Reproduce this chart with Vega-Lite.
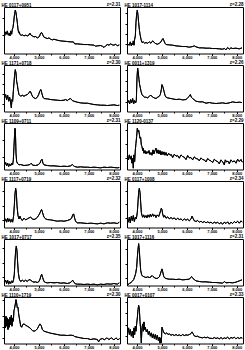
{
"$schema": "https://vega.github.io/schema/vega-lite/v6.json",
"background": "white",
"padding": {"left": 1, "top": 0, "right": 2, "bottom": 0},
"columns": 2,
"spacing": {"row": 11, "column": 7},
"bounds": "flush",
"datasets": {
"p1": [{"x":3626,"y":5.3},{"x":3666,"y":6.5},{"x":3706,"y":5.8},{"x":3733,"y":6.8},{"x":3773,"y":5.5},{"x":3813,"y":6.1},{"x":3840,"y":5.3},{"x":3867,"y":6.8},{"x":3907,"y":5.8},{"x":3934,"y":7.3},{"x":3960,"y":7.8},{"x":3987,"y":9.3},{"x":4014,"y":11.3},{"x":4040,"y":12.5},{"x":4054,"y":13.1},{"x":4081,"y":12.3},{"x":4107,"y":10.8},{"x":4134,"y":9.3},{"x":4161,"y":7.3},{"x":4187,"y":6.3},{"x":4214,"y":6.5},{"x":4241,"y":5.7},{"x":4294,"y":5.5},{"x":4348,"y":5.6},{"x":4401,"y":5.3},{"x":4468,"y":5.5},{"x":4535,"y":5.3},{"x":4602,"y":5.6},{"x":4642,"y":6.1},{"x":4682,"y":5.5},{"x":4735,"y":5.3},{"x":4802,"y":5.0},{"x":4869,"y":5.1},{"x":4936,"y":4.7},{"x":4989,"y":4.9},{"x":5029,"y":5.3},{"x":5069,"y":6.1},{"x":5109,"y":6.3},{"x":5149,"y":5.7},{"x":5203,"y":4.9},{"x":5270,"y":4.7},{"x":5336,"y":4.5},{"x":5403,"y":4.7},{"x":5470,"y":4.3},{"x":5537,"y":4.1},{"x":5604,"y":4.3},{"x":5737,"y":4.0},{"x":5871,"y":3.8},{"x":6004,"y":3.7},{"x":6138,"y":3.6},{"x":6272,"y":3.5},{"x":6378,"y":3.5},{"x":6432,"y":2.9},{"x":6539,"y":2.9},{"x":6672,"y":2.8},{"x":6806,"y":2.7},{"x":6940,"y":2.7},{"x":7073,"y":2.6},{"x":7207,"y":2.5},{"x":7273,"y":2.2},{"x":7340,"y":2.3},{"x":7474,"y":2.4},{"x":7541,"y":2.2},{"x":7608,"y":1.8},{"x":7674,"y":2.3},{"x":7741,"y":2.7},{"x":7808,"y":2.5},{"x":7875,"y":2.9},{"x":7941,"y":2.6},{"x":8008,"y":2.5},{"x":8075,"y":2.8},{"x":8142,"y":2.3},{"x":8222,"y":2.6}],
"p2": [{"x":3626,"y":2.8},{"x":3693,"y":2.5},{"x":3733,"y":3.5},{"x":3773,"y":2.3},{"x":3800,"y":3.1},{"x":3827,"y":2.7},{"x":3853,"y":3.8},{"x":3880,"y":2.5},{"x":3907,"y":4.3},{"x":3934,"y":5.3},{"x":3960,"y":9.3},{"x":3987,"y":11.8},{"x":4014,"y":13.1},{"x":4041,"y":11.5},{"x":4067,"y":9.3},{"x":4094,"y":7.3},{"x":4121,"y":5.8},{"x":4161,"y":4.3},{"x":4201,"y":3.3},{"x":4254,"y":3.5},{"x":4308,"y":3.1},{"x":4361,"y":3.3},{"x":4428,"y":3.1},{"x":4495,"y":3.5},{"x":4562,"y":3.1},{"x":4628,"y":3.8},{"x":4695,"y":3.3},{"x":4762,"y":2.9},{"x":4829,"y":2.8},{"x":4896,"y":3.1},{"x":4962,"y":3.5},{"x":5002,"y":4.1},{"x":5043,"y":4.5},{"x":5083,"y":3.8},{"x":5123,"y":3.1},{"x":5163,"y":2.7},{"x":5296,"y":2.6},{"x":5430,"y":2.5},{"x":5564,"y":2.3},{"x":5697,"y":2.2},{"x":5831,"y":2.1},{"x":5964,"y":2.1},{"x":6098,"y":1.9},{"x":6232,"y":2.1},{"x":6298,"y":2.3},{"x":6365,"y":2.0},{"x":6499,"y":1.7},{"x":6632,"y":1.7},{"x":6766,"y":1.6},{"x":6900,"y":1.6},{"x":7033,"y":1.5},{"x":7167,"y":1.5},{"x":7300,"y":1.4},{"x":7434,"y":1.3},{"x":7501,"y":1.5},{"x":7568,"y":1.1},{"x":7634,"y":1.8},{"x":7701,"y":1.3},{"x":7768,"y":1.7},{"x":7835,"y":1.5},{"x":7968,"y":1.6},{"x":8102,"y":1.4},{"x":8209,"y":1.7}],
"p3": [{"x":3626,"y":4.1},{"x":3666,"y":5.1},{"x":3706,"y":3.6},{"x":3747,"y":4.9},{"x":3787,"y":3.1},{"x":3827,"y":4.3},{"x":3867,"y":2.6},{"x":3894,"y":1.1},{"x":3920,"y":3.6},{"x":3947,"y":3.1},{"x":3974,"y":6.1},{"x":4000,"y":8.6},{"x":4027,"y":11.1},{"x":4054,"y":12.6},{"x":4081,"y":11.6},{"x":4107,"y":9.1},{"x":4134,"y":8.1},{"x":4161,"y":6.6},{"x":4201,"y":5.1},{"x":4268,"y":4.6},{"x":4334,"y":4.9},{"x":4401,"y":4.6},{"x":4468,"y":4.9},{"x":4535,"y":5.1},{"x":4602,"y":5.6},{"x":4642,"y":6.1},{"x":4668,"y":5.9},{"x":4708,"y":5.1},{"x":4762,"y":4.3},{"x":4802,"y":4.1},{"x":4869,"y":3.9},{"x":4936,"y":4.3},{"x":4989,"y":5.1},{"x":5042,"y":6.3},{"x":5082,"y":6.6},{"x":5123,"y":5.3},{"x":5163,"y":4.3},{"x":5203,"y":3.9},{"x":5336,"y":3.8},{"x":5470,"y":3.6},{"x":5604,"y":3.5},{"x":5737,"y":3.4},{"x":5871,"y":3.3},{"x":6004,"y":3.4},{"x":6071,"y":3.6},{"x":6138,"y":3.3},{"x":6205,"y":3.7},{"x":6272,"y":3.9},{"x":6338,"y":3.3},{"x":6405,"y":3.1},{"x":6539,"y":2.8},{"x":6672,"y":2.6},{"x":6806,"y":2.5},{"x":6940,"y":2.5},{"x":7073,"y":2.3},{"x":7207,"y":2.1},{"x":7340,"y":2.0},{"x":7474,"y":1.9},{"x":7608,"y":1.9},{"x":7741,"y":1.8},{"x":7875,"y":1.9},{"x":8008,"y":2.0},{"x":8142,"y":1.8},{"x":8222,"y":1.9}],
"p4": [{"x":3626,"y":2.6},{"x":3666,"y":3.3},{"x":3707,"y":2.3},{"x":3747,"y":3.6},{"x":3787,"y":2.6},{"x":3827,"y":3.9},{"x":3867,"y":2.3},{"x":3907,"y":3.3},{"x":3947,"y":2.6},{"x":3974,"y":3.3},{"x":4000,"y":10.1},{"x":4027,"y":13.1},{"x":4054,"y":11.6},{"x":4081,"y":9.6},{"x":4107,"y":8.1},{"x":4134,"y":7.1},{"x":4161,"y":6.1},{"x":4201,"y":5.1},{"x":4254,"y":4.6},{"x":4308,"y":4.3},{"x":4361,"y":4.3},{"x":4428,"y":4.1},{"x":4495,"y":4.6},{"x":4562,"y":4.9},{"x":4628,"y":4.3},{"x":4695,"y":4.1},{"x":4762,"y":3.9},{"x":4829,"y":4.3},{"x":4896,"y":4.6},{"x":4936,"y":5.1},{"x":4976,"y":6.6},{"x":5002,"y":8.1},{"x":5043,"y":7.3},{"x":5083,"y":6.1},{"x":5123,"y":4.9},{"x":5163,"y":4.3},{"x":5230,"y":4.1},{"x":5296,"y":4.0},{"x":5430,"y":3.8},{"x":5564,"y":3.6},{"x":5697,"y":3.7},{"x":5831,"y":3.5},{"x":5964,"y":3.6},{"x":6031,"y":4.1},{"x":6098,"y":4.6},{"x":6138,"y":5.1},{"x":6178,"y":4.3},{"x":6232,"y":3.9},{"x":6365,"y":3.1},{"x":6499,"y":2.9},{"x":6632,"y":2.9},{"x":6766,"y":2.5},{"x":6900,"y":2.7},{"x":7033,"y":2.5},{"x":7167,"y":2.4},{"x":7300,"y":2.5},{"x":7434,"y":2.6},{"x":7568,"y":2.4},{"x":7701,"y":2.6},{"x":7835,"y":2.9},{"x":7968,"y":2.7},{"x":8102,"y":2.8},{"x":8209,"y":2.7}],
"p5": [{"x":3626,"y":1.4},{"x":3666,"y":2.1},{"x":3706,"y":1.1},{"x":3747,"y":1.9},{"x":3787,"y":0.9},{"x":3827,"y":1.7},{"x":3867,"y":1.1},{"x":3907,"y":1.9},{"x":3947,"y":1.4},{"x":3974,"y":2.9},{"x":4000,"y":6.9},{"x":4027,"y":10.9},{"x":4040,"y":12.4},{"x":4054,"y":11.9},{"x":4067,"y":8.9},{"x":4081,"y":4.9},{"x":4107,"y":2.4},{"x":4134,"y":1.9},{"x":4201,"y":1.4},{"x":4268,"y":1.5},{"x":4401,"y":1.2},{"x":4535,"y":1.3},{"x":4642,"y":1.5},{"x":4695,"y":1.9},{"x":4749,"y":1.3},{"x":4869,"y":1.2},{"x":4963,"y":1.4},{"x":5042,"y":1.9},{"x":5082,"y":2.7},{"x":5123,"y":3.1},{"x":5163,"y":1.9},{"x":5203,"y":1.4},{"x":5336,"y":1.2},{"x":5470,"y":1.1},{"x":5604,"y":1.1},{"x":5737,"y":1.0},{"x":5871,"y":0.9},{"x":6004,"y":1.0},{"x":6138,"y":0.9},{"x":6272,"y":1.1},{"x":6338,"y":1.5},{"x":6378,"y":1.2},{"x":6432,"y":0.9},{"x":6539,"y":0.7},{"x":6672,"y":0.8},{"x":6806,"y":0.7},{"x":6940,"y":0.7},{"x":7073,"y":0.6},{"x":7207,"y":0.7},{"x":7340,"y":0.6},{"x":7474,"y":0.5},{"x":7608,"y":0.7},{"x":7741,"y":0.6},{"x":7875,"y":0.7},{"x":8008,"y":0.6},{"x":8142,"y":0.5},{"x":8222,"y":0.6}],
"p6": [{"x":3613,"y":3.9},{"x":3653,"y":2.9},{"x":3693,"y":4.4},{"x":3733,"y":3.1},{"x":3773,"y":4.1},{"x":3800,"y":1.9},{"x":3827,"y":3.4},{"x":3853,"y":0.4},{"x":3880,"y":4.4},{"x":3907,"y":2.4},{"x":3934,"y":5.9},{"x":3960,"y":7.9},{"x":3987,"y":9.9},{"x":4014,"y":12.4},{"x":4041,"y":11.4},{"x":4067,"y":11.9},{"x":4094,"y":10.7},{"x":4121,"y":9.4},{"x":4148,"y":9.7},{"x":4174,"y":7.4},{"x":4201,"y":6.9},{"x":4228,"y":5.7},{"x":4254,"y":6.4},{"x":4281,"y":4.9},{"x":4321,"y":5.7},{"x":4361,"y":4.7},{"x":4401,"y":5.4},{"x":4441,"y":4.9},{"x":4481,"y":5.7},{"x":4522,"y":4.5},{"x":4562,"y":5.1},{"x":4602,"y":4.3},{"x":4642,"y":5.9},{"x":4682,"y":4.7},{"x":4722,"y":5.7},{"x":4762,"y":6.4},{"x":4802,"y":4.9},{"x":4842,"y":5.9},{"x":4882,"y":4.7},{"x":4922,"y":5.7},{"x":4962,"y":4.4},{"x":5002,"y":5.4},{"x":5043,"y":4.5},{"x":5083,"y":5.3},{"x":5123,"y":4.3},{"x":5163,"y":5.1},{"x":5216,"y":4.1},{"x":5270,"y":4.9},{"x":5323,"y":4.3},{"x":5377,"y":4.5},{"x":5430,"y":3.6},{"x":5497,"y":4.6},{"x":5564,"y":4.0},{"x":5630,"y":4.2},{"x":5697,"y":3.4},{"x":5764,"y":4.4},{"x":5831,"y":3.9},{"x":5898,"y":3.7},{"x":5964,"y":3.0},{"x":6031,"y":4.2},{"x":6098,"y":3.5},{"x":6165,"y":3.6},{"x":6232,"y":2.9},{"x":6298,"y":3.8},{"x":6365,"y":3.3},{"x":6432,"y":3.2},{"x":6499,"y":2.6},{"x":6566,"y":3.5},{"x":6632,"y":3.0},{"x":6699,"y":2.9},{"x":6766,"y":2.3},{"x":6833,"y":3.3},{"x":6900,"y":2.8},{"x":6966,"y":2.6},{"x":7033,"y":2.1},{"x":7100,"y":3.1},{"x":7167,"y":2.6},{"x":7234,"y":2.4},{"x":7300,"y":1.7},{"x":7367,"y":2.9},{"x":7434,"y":2.3},{"x":7501,"y":1.4},{"x":7541,"y":2.9},{"x":7594,"y":2.3},{"x":7648,"y":2.5},{"x":7701,"y":1.7},{"x":7768,"y":2.9},{"x":7835,"y":2.3},{"x":7902,"y":2.6},{"x":7968,"y":1.9},{"x":8035,"y":3.1},{"x":8102,"y":2.4},{"x":8169,"y":3.0},{"x":8222,"y":2.2}],
"p7": [{"x":3626,"y":1.8},{"x":3666,"y":2.6},{"x":3706,"y":1.6},{"x":3747,"y":2.8},{"x":3787,"y":1.8},{"x":3827,"y":2.6},{"x":3867,"y":1.6},{"x":3907,"y":2.4},{"x":3947,"y":1.6},{"x":3987,"y":3.6},{"x":4014,"y":6.6},{"x":4040,"y":10.1},{"x":4067,"y":11.8},{"x":4094,"y":10.6},{"x":4121,"y":6.6},{"x":4161,"y":3.6},{"x":4201,"y":2.6},{"x":4241,"y":3.4},{"x":4281,"y":2.6},{"x":4334,"y":2.1},{"x":4401,"y":2.8},{"x":4468,"y":2.3},{"x":4535,"y":2.6},{"x":4602,"y":2.9},{"x":4668,"y":3.1},{"x":4735,"y":2.6},{"x":4802,"y":2.4},{"x":4869,"y":2.6},{"x":4936,"y":3.1},{"x":5002,"y":3.8},{"x":5042,"y":4.4},{"x":5082,"y":5.2},{"x":5109,"y":5.4},{"x":5149,"y":4.4},{"x":5203,"y":3.1},{"x":5270,"y":2.6},{"x":5336,"y":2.4},{"x":5470,"y":2.3},{"x":5604,"y":2.1},{"x":5737,"y":1.9},{"x":5871,"y":2.0},{"x":6004,"y":1.9},{"x":6138,"y":2.1},{"x":6245,"y":2.4},{"x":6312,"y":2.8},{"x":6352,"y":3.8},{"x":6392,"y":4.1},{"x":6432,"y":2.8},{"x":6472,"y":1.8},{"x":6539,"y":1.4},{"x":6672,"y":1.4},{"x":6806,"y":1.3},{"x":6940,"y":1.2},{"x":7073,"y":1.3},{"x":7207,"y":1.2},{"x":7340,"y":1.1},{"x":7474,"y":1.3},{"x":7608,"y":1.1},{"x":7741,"y":1.4},{"x":7875,"y":1.3},{"x":8008,"y":1.4},{"x":8142,"y":1.2},{"x":8222,"y":1.6}],
"p8": [{"x":3613,"y":2.6},{"x":3653,"y":1.6},{"x":3693,"y":3.1},{"x":3733,"y":1.4},{"x":3773,"y":3.4},{"x":3813,"y":2.1},{"x":3853,"y":3.6},{"x":3894,"y":1.8},{"x":3934,"y":3.1},{"x":3974,"y":2.6},{"x":4014,"y":4.6},{"x":4041,"y":7.6},{"x":4067,"y":10.6},{"x":4094,"y":11.8},{"x":4121,"y":10.6},{"x":4148,"y":7.6},{"x":4174,"y":4.6},{"x":4201,"y":3.6},{"x":4228,"y":3.1},{"x":4268,"y":3.8},{"x":4308,"y":3.0},{"x":4361,"y":3.6},{"x":4401,"y":2.9},{"x":4441,"y":3.8},{"x":4495,"y":3.1},{"x":4535,"y":4.0},{"x":4575,"y":3.2},{"x":4628,"y":4.1},{"x":4668,"y":3.4},{"x":4722,"y":3.8},{"x":4762,"y":3.0},{"x":4815,"y":3.8},{"x":4869,"y":3.3},{"x":4909,"y":4.1},{"x":4949,"y":5.1},{"x":4976,"y":5.8},{"x":5002,"y":5.4},{"x":5029,"y":4.1},{"x":5069,"y":3.1},{"x":5109,"y":3.6},{"x":5163,"y":2.8},{"x":5230,"y":3.2},{"x":5296,"y":2.6},{"x":5363,"y":3.0},{"x":5430,"y":2.6},{"x":5497,"y":2.9},{"x":5564,"y":2.3},{"x":5630,"y":2.8},{"x":5697,"y":2.4},{"x":5764,"y":2.6},{"x":5831,"y":2.1},{"x":5898,"y":2.6},{"x":5964,"y":2.2},{"x":6031,"y":2.5},{"x":6098,"y":2.0},{"x":6165,"y":2.6},{"x":6205,"y":3.4},{"x":6245,"y":2.8},{"x":6298,"y":2.0},{"x":6365,"y":1.8},{"x":6432,"y":2.1},{"x":6499,"y":1.6},{"x":6566,"y":1.9},{"x":6632,"y":1.5},{"x":6699,"y":1.8},{"x":6766,"y":1.4},{"x":6833,"y":1.7},{"x":6900,"y":1.4},{"x":6966,"y":1.6},{"x":7033,"y":1.2},{"x":7100,"y":1.6},{"x":7167,"y":1.3},{"x":7234,"y":1.6},{"x":7300,"y":1.1},{"x":7367,"y":1.5},{"x":7434,"y":1.0},{"x":7501,"y":1.6},{"x":7568,"y":1.2},{"x":7634,"y":1.7},{"x":7701,"y":1.0},{"x":7768,"y":1.6},{"x":7835,"y":1.2},{"x":7902,"y":1.8},{"x":7968,"y":1.4},{"x":8035,"y":1.9},{"x":8102,"y":1.3},{"x":8169,"y":2.0},{"x":8222,"y":1.6}],
"p9": [{"x":3626,"y":0.9},{"x":3666,"y":1.6},{"x":3706,"y":0.6},{"x":3747,"y":1.6},{"x":3787,"y":0.4},{"x":3827,"y":1.2},{"x":3867,"y":0.6},{"x":3907,"y":1.4},{"x":3947,"y":0.8},{"x":3987,"y":1.9},{"x":4014,"y":3.4},{"x":4040,"y":7.4},{"x":4067,"y":10.4},{"x":4094,"y":11.9},{"x":4121,"y":10.4},{"x":4147,"y":6.9},{"x":4174,"y":3.9},{"x":4214,"y":1.9},{"x":4268,"y":1.2},{"x":4334,"y":1.6},{"x":4401,"y":1.2},{"x":4468,"y":1.6},{"x":4535,"y":1.2},{"x":4602,"y":1.8},{"x":4668,"y":1.6},{"x":4735,"y":1.2},{"x":4802,"y":1.0},{"x":4869,"y":1.1},{"x":4936,"y":0.9},{"x":5002,"y":1.2},{"x":5042,"y":1.9},{"x":5082,"y":2.9},{"x":5109,"y":3.4},{"x":5149,"y":2.4},{"x":5203,"y":1.2},{"x":5270,"y":0.9},{"x":5336,"y":0.8},{"x":5470,"y":0.9},{"x":5604,"y":0.8},{"x":5737,"y":0.9},{"x":5871,"y":0.7},{"x":6004,"y":0.8},{"x":6138,"y":0.6},{"x":6245,"y":0.8},{"x":6312,"y":1.2},{"x":6352,"y":1.6},{"x":6405,"y":0.9},{"x":6472,"y":0.5},{"x":6539,"y":0.4},{"x":6672,"y":0.4},{"x":6806,"y":0.3},{"x":6940,"y":0.4},{"x":7073,"y":0.3},{"x":7207,"y":0.4},{"x":7340,"y":0.2},{"x":7474,"y":0.4},{"x":7608,"y":0.3},{"x":7741,"y":0.5},{"x":7875,"y":0.4},{"x":8008,"y":0.6},{"x":8142,"y":0.4},{"x":8222,"y":0.8}],
"p10": [{"x":3626,"y":0.2},{"x":3693,"y":0.6},{"x":3760,"y":0.9},{"x":3827,"y":1.4},{"x":3867,"y":1.8},{"x":3907,"y":2.6},{"x":3947,"y":3.6},{"x":3987,"y":5.4},{"x":4014,"y":8.4},{"x":4041,"y":10.9},{"x":4067,"y":12.6},{"x":4094,"y":10.6},{"x":4121,"y":7.4},{"x":4148,"y":4.6},{"x":4188,"y":3.2},{"x":4228,"y":2.8},{"x":4294,"y":2.6},{"x":4361,"y":2.4},{"x":4428,"y":2.6},{"x":4495,"y":2.4},{"x":4562,"y":2.6},{"x":4602,"y":3.0},{"x":4642,"y":2.7},{"x":4695,"y":2.4},{"x":4762,"y":2.1},{"x":4829,"y":2.2},{"x":4896,"y":2.6},{"x":4936,"y":3.4},{"x":4976,"y":4.4},{"x":5002,"y":5.0},{"x":5029,"y":4.2},{"x":5069,"y":2.8},{"x":5109,"y":2.3},{"x":5163,"y":2.1},{"x":5296,"y":1.9},{"x":5430,"y":1.9},{"x":5564,"y":1.8},{"x":5697,"y":1.9},{"x":5831,"y":1.7},{"x":5964,"y":1.8},{"x":6098,"y":1.9},{"x":6151,"y":2.4},{"x":6191,"y":2.7},{"x":6245,"y":2.1},{"x":6365,"y":1.4},{"x":6499,"y":1.2},{"x":6632,"y":1.1},{"x":6766,"y":1.1},{"x":6900,"y":1.0},{"x":7033,"y":0.9},{"x":7167,"y":0.9},{"x":7300,"y":0.8},{"x":7434,"y":0.7},{"x":7501,"y":1.2},{"x":7568,"y":0.8},{"x":7701,"y":0.9},{"x":7835,"y":0.8},{"x":7968,"y":1.0},{"x":8102,"y":1.4},{"x":8209,"y":1.7}],
"p11": [{"x":3626,"y":6.7},{"x":3653,"y":4.7},{"x":3680,"y":8.2},{"x":3706,"y":5.2},{"x":3733,"y":7.7},{"x":3760,"y":4.2},{"x":3787,"y":7.2},{"x":3813,"y":4.9},{"x":3840,"y":7.9},{"x":3867,"y":5.7},{"x":3894,"y":8.5},{"x":3920,"y":5.2},{"x":3947,"y":7.7},{"x":3974,"y":6.7},{"x":4000,"y":9.9},{"x":4027,"y":10.7},{"x":4054,"y":11.9},{"x":4081,"y":13.2},{"x":4107,"y":12.2},{"x":4134,"y":10.7},{"x":4161,"y":10.9},{"x":4187,"y":8.9},{"x":4214,"y":7.7},{"x":4241,"y":6.5},{"x":4268,"y":5.3},{"x":4308,"y":4.9},{"x":4348,"y":5.7},{"x":4401,"y":5.9},{"x":4468,"y":5.5},{"x":4535,"y":5.2},{"x":4602,"y":4.9},{"x":4668,"y":4.5},{"x":4735,"y":3.9},{"x":4802,"y":3.7},{"x":4869,"y":3.9},{"x":4936,"y":4.4},{"x":4989,"y":5.2},{"x":5042,"y":5.9},{"x":5096,"y":5.3},{"x":5136,"y":4.2},{"x":5203,"y":3.7},{"x":5336,"y":3.4},{"x":5470,"y":3.1},{"x":5604,"y":2.9},{"x":5737,"y":2.7},{"x":5871,"y":2.5},{"x":6004,"y":2.5},{"x":6138,"y":2.4},{"x":6272,"y":2.5},{"x":6378,"y":2.4},{"x":6432,"y":2.1},{"x":6539,"y":1.9},{"x":6672,"y":1.7},{"x":6806,"y":1.5},{"x":6940,"y":1.5},{"x":7073,"y":1.2},{"x":7207,"y":1.4},{"x":7340,"y":1.2},{"x":7394,"y":0.5},{"x":7447,"y":1.2},{"x":7541,"y":1.5},{"x":7634,"y":1.1},{"x":7714,"y":1.7},{"x":7808,"y":1.2},{"x":7902,"y":1.7},{"x":8008,"y":1.1},{"x":8088,"y":1.7},{"x":8169,"y":1.1},{"x":8235,"y":1.5}],
"p12": [{"x":3626,"y":3.2},{"x":3666,"y":4.7},{"x":3693,"y":2.7},{"x":3733,"y":4.2},{"x":3773,"y":2.2},{"x":3813,"y":3.7},{"x":3853,"y":1.7},{"x":3880,"y":4.7},{"x":3907,"y":2.7},{"x":3934,"y":5.2},{"x":3960,"y":3.7},{"x":3987,"y":5.9},{"x":4014,"y":7.7},{"x":4041,"y":10.2},{"x":4067,"y":11.5},{"x":4094,"y":10.5},{"x":4121,"y":6.7},{"x":4148,"y":4.2},{"x":4174,"y":0.2},{"x":4201,"y":4.7},{"x":4228,"y":5.9},{"x":4254,"y":3.7},{"x":4281,"y":6.5},{"x":4308,"y":4.2},{"x":4334,"y":4.9},{"x":4374,"y":3.5},{"x":4415,"y":4.2},{"x":4455,"y":2.7},{"x":4495,"y":3.7},{"x":4535,"y":2.2},{"x":4575,"y":3.2},{"x":4615,"y":1.7},{"x":4655,"y":2.9},{"x":4695,"y":1.5},{"x":4735,"y":2.7},{"x":4775,"y":1.2},{"x":4815,"y":2.5},{"x":4856,"y":0.9},{"x":4896,"y":1.9},{"x":4922,"y":0.1},{"x":4949,"y":1.7},{"x":4976,"y":0.2},{"x":5002,"y":4.9},{"x":5043,"y":3.9},{"x":5083,"y":3.2},{"x":5136,"y":2.9},{"x":5190,"y":3.2},{"x":5243,"y":2.7},{"x":5296,"y":2.9},{"x":5363,"y":2.5},{"x":5430,"y":2.7},{"x":5497,"y":2.4},{"x":5564,"y":2.7},{"x":5630,"y":2.4},{"x":5697,"y":2.6},{"x":5764,"y":2.3},{"x":5831,"y":2.7},{"x":5898,"y":2.4},{"x":5964,"y":2.6},{"x":6031,"y":2.5},{"x":6098,"y":2.7},{"x":6165,"y":3.0},{"x":6205,"y":3.5},{"x":6245,"y":3.0},{"x":6298,"y":2.3},{"x":6365,"y":2.1},{"x":6432,"y":2.2},{"x":6499,"y":1.9},{"x":6632,"y":1.7},{"x":6699,"y":1.9},{"x":6766,"y":1.7},{"x":6833,"y":1.9},{"x":6900,"y":1.6},{"x":7033,"y":1.5},{"x":7100,"y":1.8},{"x":7167,"y":1.5},{"x":7234,"y":1.7},{"x":7300,"y":1.4},{"x":7367,"y":1.8},{"x":7434,"y":1.4},{"x":7501,"y":1.7},{"x":7568,"y":1.5},{"x":7634,"y":1.9},{"x":7701,"y":1.4},{"x":7768,"y":1.8},{"x":7835,"y":1.6},{"x":7902,"y":1.9},{"x":7968,"y":1.4},{"x":8035,"y":1.8},{"x":8102,"y":1.5},{"x":8169,"y":1.8},{"x":8222,"y":1.6}]
},
"concat": [
{"width":116,"height":46.5,"data":{"name":"p1"},"title":"HE 0117+0951","encoding":{"y":{"field":"y","type":"quantitative","scale":{"domain":[0,14],"nice":false},"axis":{"values":[5.6,10.8],"title":null}}},"layer":[{"mark":"line","encoding":{"x":{"field":"x","type":"quantitative","scale":{"domain":[3600,8250],"nice":false,"zero":false},"axis":{"values":[4000,4500,5000,5500,6000,6500,7000,7500,8000],"labelExpr":"datum.value % 1000 === 0 ? datum.label : ''","tickSize":{"condition":{"test":"datum.value % 1000 === 0","value":2},"value":1.5},"title":null}}}},{"mark":"line","encoding":{"x":{"field":"x","type":"quantitative","axis":{"orient":"top","title":"z=2.31"}}}}],"resolve":{"axis":{"x":"independent"}}},
{"width":116,"height":46.5,"data":{"name":"p2"},"title":"HE 1017-1114","encoding":{"y":{"field":"y","type":"quantitative","scale":{"domain":[0,14],"nice":false},"axis":{"values":[2.8,6.0,9.0,12.3],"title":null}}},"layer":[{"mark":"line","encoding":{"x":{"field":"x","type":"quantitative","scale":{"domain":[3600,8250],"nice":false,"zero":false},"axis":{"values":[4000,4500,5000,5500,6000,6500,7000,7500,8000],"labelExpr":"datum.value % 1000 === 0 ? datum.label : ''","tickSize":{"condition":{"test":"datum.value % 1000 === 0","value":2},"value":1.5},"title":null}}}},{"mark":"line","encoding":{"x":{"field":"x","type":"quantitative","axis":{"orient":"top","title":"z=2.28"}}}}],"resolve":{"axis":{"x":"independent"}}},
{"width":116,"height":46.5,"data":{"name":"p3"},"title":"HE 1171+0718","encoding":{"y":{"field":"y","type":"quantitative","scale":{"domain":[0,14],"nice":false},"axis":{"values":[2.3,5.3,8.3,11.3],"title":null}}},"layer":[{"mark":"line","encoding":{"x":{"field":"x","type":"quantitative","scale":{"domain":[3600,8250],"nice":false,"zero":false},"axis":{"values":[4000,4500,5000,5500,6000,6500,7000,7500,8000],"labelExpr":"datum.value % 1000 === 0 ? datum.label : ''","tickSize":{"condition":{"test":"datum.value % 1000 === 0","value":2},"value":1.5},"title":null}}}},{"mark":"line","encoding":{"x":{"field":"x","type":"quantitative","axis":{"orient":"top","title":"z=2.30"}}}}],"resolve":{"axis":{"x":"independent"}}},
{"width":116,"height":46.5,"data":{"name":"p4"},"title":"HE 0011+1319","encoding":{"y":{"field":"y","type":"quantitative","scale":{"domain":[0,14],"nice":false},"axis":{"values":[2.8,6.1,9.3,12.6],"title":null}}},"layer":[{"mark":"line","encoding":{"x":{"field":"x","type":"quantitative","scale":{"domain":[3600,8250],"nice":false,"zero":false},"axis":{"values":[4000,4500,5000,5500,6000,6500,7000,7500,8000],"labelExpr":"datum.value % 1000 === 0 ? datum.label : ''","tickSize":{"condition":{"test":"datum.value % 1000 === 0","value":2},"value":1.5},"title":null}}}},{"mark":"line","encoding":{"x":{"field":"x","type":"quantitative","axis":{"orient":"top","title":"z=2.26"}}}}],"resolve":{"axis":{"x":"independent"}}},
{"width":116,"height":46.5,"data":{"name":"p5"},"title":"HE 1109+0711","encoding":{"y":{"field":"y","type":"quantitative","scale":{"domain":[0,14],"nice":false},"axis":{"values":[3.9,8.9],"title":null}}},"layer":[{"mark":"line","encoding":{"x":{"field":"x","type":"quantitative","scale":{"domain":[3600,8250],"nice":false,"zero":false},"axis":{"values":[4000,4500,5000,5500,6000,6500,7000,7500,8000],"labelExpr":"datum.value % 1000 === 0 ? datum.label : ''","tickSize":{"condition":{"test":"datum.value % 1000 === 0","value":2},"value":1.5},"title":null}}}},{"mark":"line","encoding":{"x":{"field":"x","type":"quantitative","axis":{"orient":"top","title":"z=2.31"}}}}],"resolve":{"axis":{"x":"independent"}}},
{"width":116,"height":46.5,"data":{"name":"p6"},"title":"HE 1120-0137","encoding":{"y":{"field":"y","type":"quantitative","scale":{"domain":[0,14],"nice":false},"axis":{"values":[3.6,7.6,11.9],"title":null}}},"layer":[{"mark":"line","encoding":{"x":{"field":"x","type":"quantitative","scale":{"domain":[3600,8250],"nice":false,"zero":false},"axis":{"values":[4000,4500,5000,5500,6000,6500,7000,7500,8000],"labelExpr":"datum.value % 1000 === 0 ? datum.label : ''","tickSize":{"condition":{"test":"datum.value % 1000 === 0","value":2},"value":1.5},"title":null}}}},{"mark":"line","encoding":{"x":{"field":"x","type":"quantitative","axis":{"orient":"top","title":"z=2.29"}}}}],"resolve":{"axis":{"x":"independent"}}},
{"width":116,"height":46.5,"data":{"name":"p7"},"title":"HE 1117+0719","encoding":{"y":{"field":"y","type":"quantitative","scale":{"domain":[0,14],"nice":false},"axis":{"values":[2.4,6.6,10.9],"title":null}}},"layer":[{"mark":"line","encoding":{"x":{"field":"x","type":"quantitative","scale":{"domain":[3600,8250],"nice":false,"zero":false},"axis":{"values":[4000,4500,5000,5500,6000,6500,7000,7500,8000],"labelExpr":"datum.value % 1000 === 0 ? datum.label : ''","tickSize":{"condition":{"test":"datum.value % 1000 === 0","value":2},"value":1.5},"title":null}}}},{"mark":"line","encoding":{"x":{"field":"x","type":"quantitative","axis":{"orient":"top","title":"z=2.32"}}}}],"resolve":{"axis":{"x":"independent"}}},
{"width":116,"height":46.5,"data":{"name":"p8"},"title":"HE 0117+1008","encoding":{"y":{"field":"y","type":"quantitative","scale":{"domain":[0,14],"nice":false},"axis":{"values":[2.8,7.1,11.1],"title":null}}},"layer":[{"mark":"line","encoding":{"x":{"field":"x","type":"quantitative","scale":{"domain":[3600,8250],"nice":false,"zero":false},"axis":{"values":[4000,4500,5000,5500,6000,6500,7000,7500,8000],"labelExpr":"datum.value % 1000 === 0 ? datum.label : ''","tickSize":{"condition":{"test":"datum.value % 1000 === 0","value":2},"value":1.5},"title":null}}}},{"mark":"line","encoding":{"x":{"field":"x","type":"quantitative","axis":{"orient":"top","title":"z=2.34"}}}}],"resolve":{"axis":{"x":"independent"}}},
{"width":116,"height":46.5,"data":{"name":"p9"},"title":"HE 1017+0717","encoding":{"y":{"field":"y","type":"quantitative","scale":{"domain":[0,14],"nice":false},"axis":{"values":[2.7,6.9,11.4],"title":null}}},"layer":[{"mark":"line","encoding":{"x":{"field":"x","type":"quantitative","scale":{"domain":[3600,8250],"nice":false,"zero":false},"axis":{"values":[4000,4500,5000,5500,6000,6500,7000,7500,8000],"labelExpr":"datum.value % 1000 === 0 ? datum.label : ''","tickSize":{"condition":{"test":"datum.value % 1000 === 0","value":2},"value":1.5},"title":null}}}},{"mark":"line","encoding":{"x":{"field":"x","type":"quantitative","axis":{"orient":"top","title":"z=2.35"}}}}],"resolve":{"axis":{"x":"independent"}}},
{"width":116,"height":46.5,"data":{"name":"p10"},"title":"HE 1017+1116","encoding":{"y":{"field":"y","type":"quantitative","scale":{"domain":[0,14],"nice":false},"axis":{"values":[2.4,6.6,10.9],"title":null}}},"layer":[{"mark":"line","encoding":{"x":{"field":"x","type":"quantitative","scale":{"domain":[3600,8250],"nice":false,"zero":false},"axis":{"values":[4000,4500,5000,5500,6000,6500,7000,7500,8000],"labelExpr":"datum.value % 1000 === 0 ? datum.label : ''","tickSize":{"condition":{"test":"datum.value % 1000 === 0","value":2},"value":1.5},"title":null}}}},{"mark":"line","encoding":{"x":{"field":"x","type":"quantitative","axis":{"orient":"top","title":"z=2.31"}}}}],"resolve":{"axis":{"x":"independent"}}},
{"width":116,"height":46.5,"data":{"name":"p11"},"title":"HE 1110+1719","encoding":{"y":{"field":"y","type":"quantitative","scale":{"domain":[0,14],"nice":false},"axis":{"values":[1.7,4.9,8.2,13.2],"title":null}}},"layer":[{"mark":"line","encoding":{"x":{"field":"x","type":"quantitative","scale":{"domain":[3600,8250],"nice":false,"zero":false},"axis":{"values":[4000,4500,5000,5500,6000,6500,7000,7500,8000],"labelExpr":"datum.value % 1000 === 0 ? datum.label : ''","tickSize":{"condition":{"test":"datum.value % 1000 === 0","value":2},"value":1.5},"title":null}}}},{"mark":"line","encoding":{"x":{"field":"x","type":"quantitative","axis":{"orient":"top","title":"z=2.30"}}}}],"resolve":{"axis":{"x":"independent"}}},
{"width":116,"height":46.5,"data":{"name":"p12"},"title":"HE 0017+0107","encoding":{"y":{"field":"y","type":"quantitative","scale":{"domain":[0,14],"nice":false},"axis":{"values":[2.2,5.7,9.1,12.5],"title":null}}},"layer":[{"mark":"line","encoding":{"x":{"field":"x","type":"quantitative","scale":{"domain":[3600,8250],"nice":false,"zero":false},"axis":{"values":[4000,4500,5000,5500,6000,6500,7000,7500,8000],"labelExpr":"datum.value % 1000 === 0 ? datum.label : ''","tickSize":{"condition":{"test":"datum.value % 1000 === 0","value":2},"value":1.5},"title":null}}}},{"mark":"line","encoding":{"x":{"field":"x","type":"quantitative","axis":{"orient":"top","title":"z=2.33"}}}}],"resolve":{"axis":{"x":"independent"}}}
],
"config": {
"view": {"stroke": "#000", "strokeWidth": 1},
"line": {"color": "#000", "strokeWidth": 1},
"axis": {"grid": false, "domain": false, "labelFont": "Liberation Sans", "labelFontWeight": "bold", "labelFontSize": 4, "labelColor": "#000", "tickColor": "#000", "labelPadding": 0, "labelBound": false, "labelOverlap": false},
"axisLeft": {"labels": false, "tickSize": 2},
"axisTop": {"labels": false, "ticks": false, "titleAnchor": "end", "titleFont": "Liberation Sans", "titleFontSize": 4.5, "titleFontWeight": "bold", "titleColor": "#000", "titlePadding": 1},
"title": {"anchor": "start", "font": "Liberation Sans", "fontSize": 4.5, "fontWeight": "bold", "color": "#000", "offset": -6}
}
}
